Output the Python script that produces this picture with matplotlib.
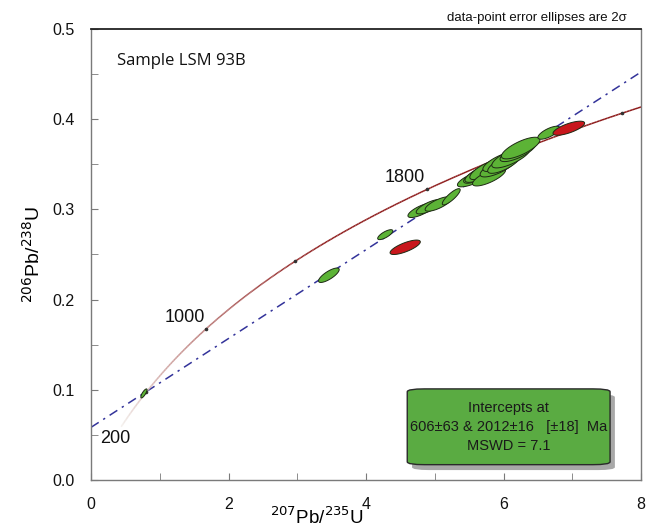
import numpy as np
import matplotlib
matplotlib.use("Agg")
import matplotlib.pyplot as plt
from matplotlib.collections import LineCollection
from matplotlib.patches import FancyBboxPatch
from matplotlib.ticker import MultipleLocator

plt.rcParams['font.family'] = ['Liberation Sans', 'DejaVu Sans']

# decay constants (1/Ma)
L235 = 9.8485e-4
L238 = 1.55125e-4

# concordia age markers / labels
marker_ages = [600, 1000, 1400, 1800, 2200]
label_ages = [200, 1000, 1800]
label_pos_x = [0.35, 1.37, 4.57]
label_pos_y = [0.046, 0.180, 0.335]

# discordia intercepts (Ma)
lower_int = 606
upper_int = 2012

# data-point error ellipses (2 sigma): centre, half-extents, correlation, colour
ell_x = [0.77, 3.46, 4.28, 4.57, 4.80, 4.92, 5.05, 5.24, 5.56, 5.63, 5.67, 5.75,
         5.79, 5.92, 5.96, 6.01, 6.11, 6.21, 6.25, 6.66, 6.95]
ell_y = [0.096, 0.227, 0.272, 0.258, 0.299, 0.303, 0.306, 0.314, 0.334, 0.338, 0.340, 0.344,
         0.336, 0.347, 0.353, 0.351, 0.358, 0.364, 0.368, 0.385, 0.390]
ell_sx = [0.045, 0.15, 0.11, 0.22, 0.19, 0.19, 0.19, 0.13, 0.23, 0.21, 0.23, 0.24,
          0.24, 0.26, 0.26, 0.24, 0.28, 0.26, 0.28, 0.16, 0.23]
ell_sy = [0.005, 0.008, 0.0055, 0.008, 0.008, 0.008, 0.008, 0.009, 0.009, 0.009, 0.010, 0.011,
          0.010, 0.011, 0.011, 0.011, 0.012, 0.011, 0.012, 0.0072, 0.0078]
ell_rho = [0.8, 0.78, 0.75, 0.75, 0.75, 0.75, 0.75, 0.85, 0.75, 0.75, 0.75, 0.75,
           0.75, 0.75, 0.75, 0.75, 0.75, 0.75, 0.75, 0.72, 0.72]
ell_col = ['g', 'g', 'g', 'r', 'g', 'g', 'g', 'g', 'g', 'g', 'g', 'g',
           'g', 'g', 'g', 'g', 'g', 'g', 'g', 'g', 'r']

fill_colors = {'g': '#5cb336', 'r': '#c8171c'}

x_ticks = [0, 2, 4, 6, 8]
y_ticks = [0.0, 0.1, 0.2, 0.3, 0.4, 0.5]

fig = plt.figure(figsize=(6.51, 5.27), dpi=100)
ax = fig.add_axes([91/651, 47/527, 550/651, 451/527])
ax.set_xlim(0, 8)
ax.set_ylim(0, 0.5)

def conc(t):
    return np.exp(L235 * t) - 1, np.exp(L238 * t) - 1

# concordia curve, fading at young ages
t = np.linspace(370, 2240, 400)
cx, cy = conc(t)
pts = np.column_stack([cx, cy]).reshape(-1, 1, 2)
segs = np.concatenate([pts[:-1], pts[1:]], axis=1)
light = np.array(matplotlib.colors.to_rgb('#f4f0ec'))
dark = np.array(matplotlib.colors.to_rgb('#8e1c1c'))
frac = np.clip((t[:-1] - 370) / (1500 - 370), 0, 1) ** 0.9
cols = light[None, :] * (1 - frac[:, None]) + dark[None, :] * frac[:, None]
ax.add_collection(LineCollection(segs, colors=cols, linewidths=1.1, zorder=3))

# age markers on concordia
mx, my = conc(np.array(marker_ages, dtype=float))
ax.plot(mx, my, linestyle='none', marker='o', markersize=1.6, color='#333333', zorder=4)

for a, lx, ly in zip(label_ages, label_pos_x, label_pos_y):
    ax.text(lx, ly, str(a), fontsize=13, ha='center', va='center', color='#111111', zorder=6)

# discordia line
x1, y1 = conc(lower_int)
x2, y2 = conc(upper_int)
slope = (y2 - y1) / (x2 - x1)
xs = np.array([0.0, 8.0])
ax.plot(xs, y1 + slope * (xs - x1), color='#33339a', lw=1.1,
        dashes=(6, 3.5, 1.5, 3.5), zorder=2)

# ellipses
th = np.linspace(0, 2 * np.pi, 120)
for x0, y0, sx, sy, r, c in zip(ell_x, ell_y, ell_sx, ell_sy, ell_rho, ell_col):
    ex = x0 + sx * np.cos(th)
    ey = y0 + sy * (r * np.cos(th) + np.sqrt(1 - r * r) * np.sin(th))
    ax.fill(ex, ey, facecolor=fill_colors[c], edgecolor='#1e2a14', lw=0.7, zorder=5)

# axes styling
for side in ['left', 'bottom', 'right']:
    ax.spines[side].set_color('#7a7a7a')
    ax.spines[side].set_linewidth(1.0)
ax.spines['top'].set_color('#222222')
ax.spines['top'].set_linewidth(1.3)
ax.set_xticks(x_ticks)
ax.set_yticks(y_ticks)
ax.set_yticklabels([f'{v:.1f}' for v in y_ticks])
ax.xaxis.set_minor_locator(MultipleLocator(1))
ax.yaxis.set_minor_locator(MultipleLocator(0.05))
ax.tick_params(which='both', direction='in', color='#7a7a7a', labelsize=11.5,
               labelcolor='#111111', top=False, right=False)
ax.tick_params(which='major', length=5)
ax.tick_params(which='minor', length=5)
ax.tick_params(axis='x', pad=12)
ax.tick_params(axis='y', pad=12)

ax.set_xlabel(r'$^{207}$Pb/$^{235}$U', fontsize=13.5, labelpad=0)
ax.xaxis.set_label_coords(0.411, -0.058)
ax.xaxis.label.set_va('top')
ax.set_ylabel(r'$^{206}$Pb/$^{238}$U', fontsize=14, labelpad=6)

ax.text(0.38, 0.465, 'Sample LSM 93B', fontsize=12, family=['Open Sans', 'DejaVu Sans'],
        ha='left', va='center', color='#111111')
fig.text(627/651, 1 - 18/527, 'data-point error ellipses are 2σ', fontsize=9.5,
         ha='right', va='center', color='#111111')

# intercept box with shadow
bx0, by0, bx1, by1 = 4.6, 0.017, 7.55, 0.101
shadow = FancyBboxPatch((bx0 + 0.07, by0 - 0.006), bx1 - bx0, by1 - by0,
                        boxstyle='round,pad=0,rounding_size=0.25', mutation_aspect=0.0125,
                        facecolor='#a8a8a8', edgecolor='none', zorder=6)
box = FancyBboxPatch((bx0, by0), bx1 - bx0, by1 - by0,
                     boxstyle='round,pad=0,rounding_size=0.25', mutation_aspect=0.0125,
                     facecolor='#5aab42', edgecolor='#2a2a2a', lw=1.0, zorder=7)
ax.add_patch(shadow)
ax.add_patch(box)
ax.text((bx0 + bx1) / 2, (by0 + by1) / 2,
        'Intercepts at\n606±63 & 2012±16   [±18]  Ma\nMSWD = 7.1',
        fontsize=10.5, ha='center', va='center', color='#1a1a1a',
        linespacing=1.45, zorder=8)

fig.savefig('out.png', dpi=100)
